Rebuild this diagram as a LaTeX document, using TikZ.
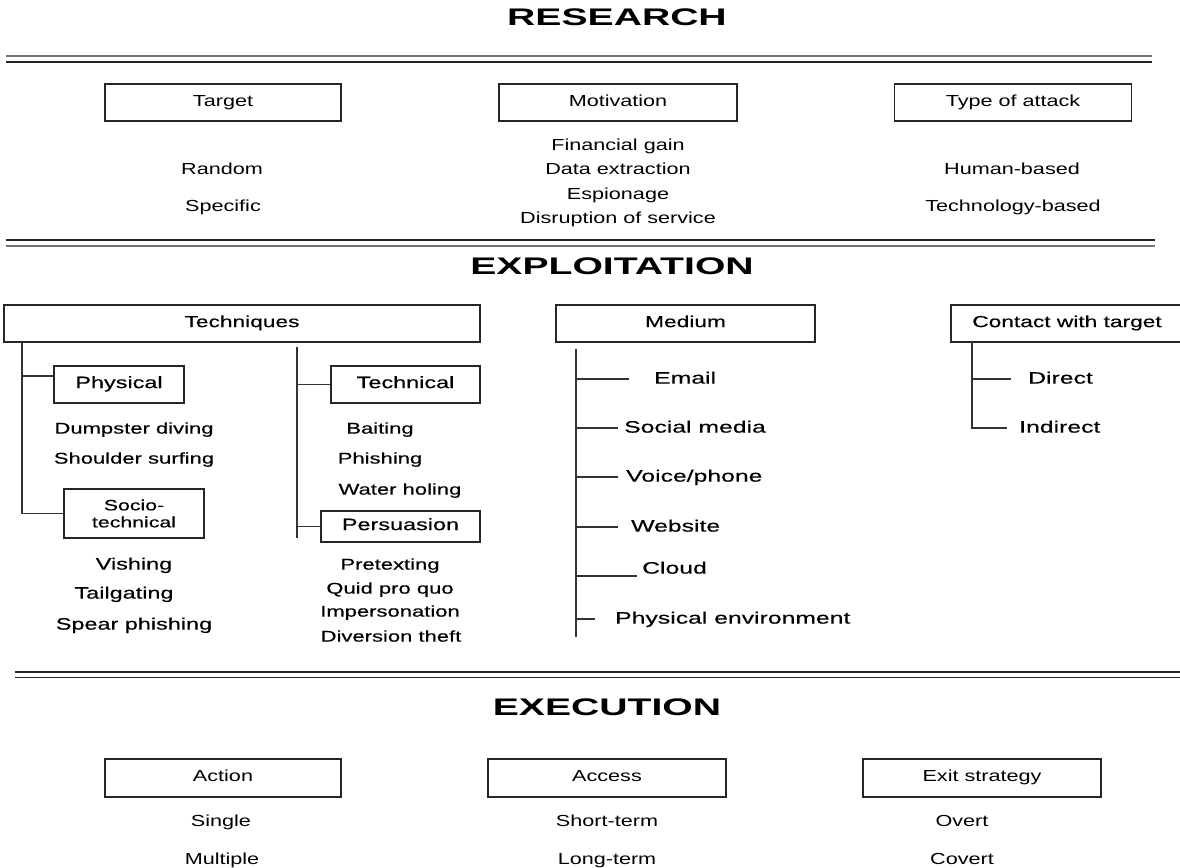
\documentclass[tikz,border=0pt]{standalone}
\usepackage{fontspec}
\setmainfont{Liberation Sans}
\newfontfamily\titlefont[FakeStretch=1.63]{Liberation Sans Bold}
\newfontfamily\resfont[FakeStretch=1.35]{Liberation Sans}
\newfontfamily\expfont[FakeStretch=1.42,FakeBold=0.4]{Liberation Sans}
\newfontfamily\medfont[FakeStretch=1.5,FakeBold=0.4]{Liberation Sans}
\usetikzlibrary{positioning}
\begin{document}
\begin{tikzpicture}[x=1pt,y=-1pt,
    headbox/.style={draw=black!85,line width=1.4pt,inner sep=0pt,minimum height=37pt,
        font=\resfont\fontsize{16}{18}\selectfont,text height=0.72em,text depth=0pt},
    xbox/.style={headbox,font=\expfont\fontsize{16}{18}\selectfont},
    subbox/.style={draw=black!85,line width=1.4pt,inner sep=0pt,minimum height=37pt,
        font=\expfont\fontsize{16.5}{18}\selectfont,text height=0.72em,text depth=0pt},
    item/.style={inner sep=0pt,font=\resfont\fontsize{16}{18}\selectfont,text height=0.72em,text depth=0pt},
    xitem/.style={item,font=\expfont\fontsize{15.5}{18}\selectfont},
    bigitem/.style={item,font=\expfont\fontsize{16.5}{18}\selectfont},
    meditem/.style={item,anchor=west,font=\medfont\fontsize{16.5}{18}\selectfont},
    phase/.style={inner sep=0pt,font=\titlefont\fontsize{24}{26}\selectfont,text height=0.72em,text depth=0pt},
    lightrule/.style={draw=black!55,line width=2pt},
    darkrule/.style={draw=black!85,line width=1.5pt},
    stem/.style={draw=black!80,line width=1.4pt}]
                \useasboundingbox (0,0) rectangle (1180,867);
                %%% Research
                \node[phase] (research) at (617,22) {RESEARCH};
                \draw[lightrule] (6,56) -- (1152,56);
                \draw[darkrule] (6,62) -- (1152,62);
                \node[headbox,minimum width=236pt] (target) at (223,102.5) {Target};
                \node[headbox,minimum width=238pt] (motiv) at (618,102.5) {Motivation};
                \node[headbox,minimum width=237pt] (attack) at (1013,102.5) {Type of attack};
                \node[item] (random) at (222,171) {Random};
                \node[item] (specific) at (223,208) {Specific};
                \node[item] (fin) at (618,147) {Financial gain};
                \node[item] (data) at (618,171) {Data extraction};
                \node[item] (esp) at (618,196) {Espionage};
                \node[item] (disr) at (618,220) {Disruption of service};
                \node[item] (human) at (1012,171) {Human-based};
                \node[item] (techb) at (1013,208) {Technology-based};
                \draw[darkrule] (6,240) -- (1155,240);
                \draw[lightrule] (6,246) -- (1155,246);
                %%% Exploitation
                \node[phase] (exploit) at (612,271) {EXPLOITATION};
                \node[xbox,minimum width=476pt] (tech) at (242,323.5) {Techniques};
                \node[xbox,minimum width=259pt] (medium) at (685.5,323.5) {Medium};
                \node[xbox,minimum width=232pt] (contact) at (1067,323.5) {Contact with target};
                % Techniques: physical / socio-technical
                \node[subbox,minimum width=130pt] (phys) at (119,384.5) {Physical};
                \node[subbox,minimum width=140pt,minimum height=49pt,align=center,text height=,text depth=,
                    font=\expfont\fontsize{15}{17}\selectfont] (socio) at (134,513.5) {Socio-\\technical};
                \coordinate (techL) at (22,342);
                \draw[stem] (techL) |- (socio.west);
                \draw[stem] (techL |- 0,376) -- (phys.west |- 0,376);
                \node[xitem] (dump) at (134,430) {Dumpster diving};
                \node[xitem] (shoul) at (134,460) {Shoulder surfing};
                \node[bigitem] (vish) at (134,566) {Vishing};
                \node[bigitem] (tail) at (124,595) {Tailgating};
                \node[bigitem] (spear) at (134,626) {Spear phishing};
                % Techniques: technical / persuasion
                \node[subbox,minimum width=149pt] (techn) at (405.5,384.5) {Technical};
                \node[subbox,minimum width=159pt,minimum height=31pt] (pers) at (400.5,526.5) {Persuasion};
                \coordinate (techR) at (297,347);
                \draw[stem] (techR) -- (techR |- 0,538);
                \draw[stem] (techR |- techn.west) -- (techn.west);
                \draw[stem] (techR |- pers.west) -- (pers.west);
                \node[xitem] (bait) at (380,430) {Baiting};
                \node[xitem] (phish) at (380,460) {Phishing};
                \node[xitem] (water) at (400,491) {Water holing};
                \node[xitem] (pretext) at (390,566) {Pretexting};
                \node[xitem] (quid) at (390,590) {Quid pro quo};
                \node[xitem] (imper) at (390,613) {Impersonation};
                \node[xitem] (divers) at (391,638) {Diversion theft};
                % Medium
                \coordinate (medTop) at (576,349);
                \coordinate (medBot) at (576,637);
                \draw[stem] (medTop) -- (medBot);
                \node[meditem] (email) at (654,380) {Email};
                \node[meditem] (social) at (624,429) {Social media};
                \node[meditem] (voice) at (626,478) {Voice/phone};
                \node[meditem] (web) at (631,528) {Website};
                \node[meditem] (cloud) at (642,570) {Cloud};
                \node[meditem] (physenv) at (615,620) {Physical environment};
                \draw[stem] (medTop |- 0,379) -- ++(53,0);
                \draw[stem] (medTop |- 0,428) -- ([xshift=-6pt]social.west |- 0,428);
                \draw[stem] (medTop |- 0,477) -- ([xshift=-8pt]voice.west |- 0,477);
                \draw[stem] (medTop |- 0,527) -- ([xshift=-13pt]web.west |- 0,527);
                \draw[stem] (medTop |- 0,576) -- ([xshift=-5pt]cloud.west |- 0,576);
                \draw[stem] (medTop |- 0,619) -- ++(19,0);
                % Contact with target
                \node[meditem] (direct) at (1028,380) {Direct};
                \node[meditem] (indirect) at (1019,429) {Indirect};
                \coordinate (conL) at (972,342);
                \draw[stem] (conL) |- ([xshift=-12pt]indirect.west |- 0,428);
                \draw[stem] (conL |- 0,379) -- ([xshift=-17pt]direct.west |- 0,379);
                \draw[darkrule] (15,672) -- (1180,672);
                \draw[darkrule] (15,677.5) -- (1180,677.5);
                %%% Execution
                \node[phase] (execution) at (607,712) {EXECUTION};
                \node[headbox,minimum width=236pt,minimum height=38pt] (action) at (223,778) {Action};
                \node[headbox,minimum width=238pt,minimum height=38pt] (access) at (607,778) {Access};
                \node[headbox,minimum width=238pt,minimum height=38pt] (exit) at (982,778) {Exit strategy};
                \node[item] (single) at (221,823) {Single};
                \node[item] (multi) at (222,861) {Multiple};
                \node[item] (short) at (607,823) {Short-term};
                \node[item] (long) at (607,861) {Long-term};
                \node[item] (overt) at (962,823) {Overt};
                \node[item] (covert) at (962,861) {Covert};
\end{tikzpicture}
\end{document}
